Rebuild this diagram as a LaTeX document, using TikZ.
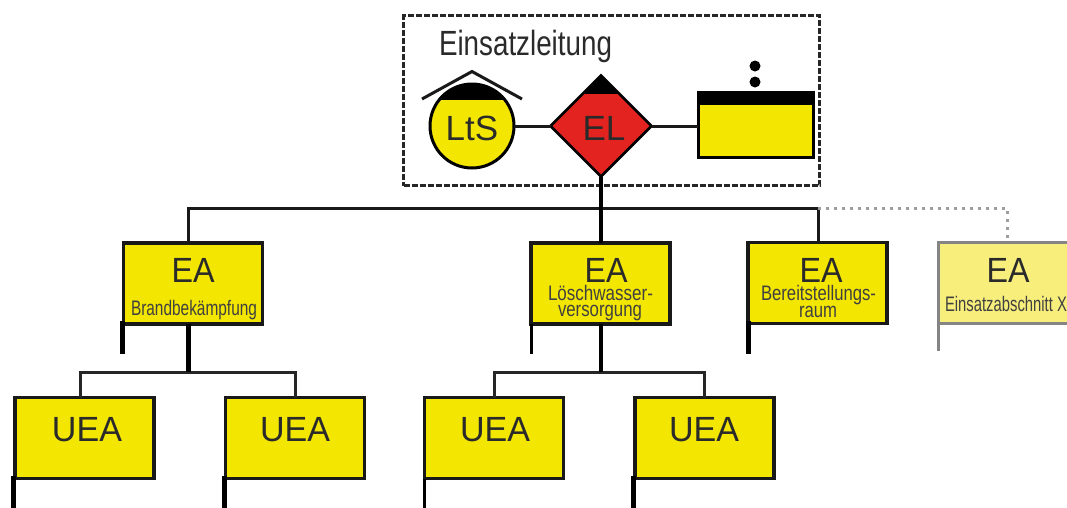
\documentclass[tikz,border=0pt]{standalone}
\usepackage{fontspec}
\usepackage{graphicx}
\setmainfont{Liberation Sans}
\usetikzlibrary{shapes.geometric}
\definecolor{ylw}{HTML}{F3E600}
\definecolor{ylwlight}{HTML}{F8EE7C}
\definecolor{elred}{HTML}{E3231F}
\definecolor{inkc}{HTML}{2A2A2A}
\newcommand{\fitw}[2]{\resizebox{#1pt}{\height}{#2}}
\newcommand{\bigfnt}{\fontsize{35}{35}\selectfont}
\newcommand{\smallfnt}{\fontsize{21}{21}\selectfont}
\tikzset{
  ebox/.style={draw=black!90,line width=3.5pt,fill=ylw,rectangle,inner sep=0pt,outer sep=0pt,minimum width=139pt,minimum height=81pt},
  ghostbox/.style={ebox,draw=black!48,fill=ylwlight},
  bigt/.style={anchor=base,inner sep=0pt,outer sep=0pt,text=inkc,font=\bigfnt},
  smallt/.style={anchor=base,inner sep=0pt,outer sep=0pt,text=black!75,font=\smallfnt},
  link/.style={draw=black!90,line width=3pt},
  tlink/.style={draw=black,line width=4pt},
  hlink/.style={draw=black!85,line width=3pt},
  pole/.style={draw=black,line width=5pt},
  tpole/.style={draw=black,line width=3pt},
  gpole/.style={draw=black!48,line width=3pt},
  dotl/.style={draw=black!38,line width=3pt,dash pattern=on 3pt off 5pt},
}
\begin{document}
\begin{tikzpicture}[x=1pt,y=-1pt]
\clip (0,0) rectangle (1067,507);
\fill[white] (0,0) rectangle (1067,507);
% Einsatzleitung frame
\node[draw=black!85,line width=2.5pt,dash pattern=on 6pt off 2pt,rectangle,inner sep=0pt,outer sep=0pt,minimum width=416pt,minimum height=170pt] (frame) at (611.5,100.5) {};
\node[bigt] (title) at (525.5,55) {\fitw{173}{Einsatzleitung}};
% Leitstelle
\node[draw=black,line width=3pt,fill=ylw,circle,inner sep=0pt,outer sep=0pt,minimum size=84pt] (lts) at (472,126) {};
\begin{scope}
  \clip (472,126) circle (42pt);
  \fill[black] (420,80) rectangle (525,100);
\end{scope}
\coordinate (roofl) at (422,99);
\coordinate (roofm) at (472,71.5);
\coordinate (roofr) at (522,99);
\draw[line width=3pt,draw=black!90] (roofl) -- (roofm) -- (roofr);
\node[bigt] (ltst) at (472,140) {LtS};
% Einsatzleiter
\node[draw=black,line width=2.5pt,fill=elred,diamond,aspect=1,inner sep=0pt,outer sep=0pt,minimum width=101pt,minimum height=101pt] (el) at (601,126) {};
\begin{scope}
  \clip (el.north) -- (el.east) -- (el.south) -- (el.west) -- cycle;
  \fill[black] (560,70) rectangle (640,94);
\end{scope}
\node[bigt] (elt) at (604,140) {EL};
% Stab box
\node[draw=black,line width=3pt,fill=ylw,rectangle,inner sep=0pt,outer sep=0pt,minimum width=115pt,minimum height=65pt] (stab) at (755.5,124.5) {};
\fill[black] (697,91) rectangle (814,105);
\node[circle,fill=black,inner sep=0pt,minimum size=11pt] (dota) at (755,66) {};
\node[circle,fill=black,inner sep=0pt,minimum size=11pt] (dotb) at (755,82) {};
\draw[link] (lts.east) -- (el.west);
\draw[link] (el.east) -- (el.east -| stab.west);
% Einsatzabschnitte
\node[ebox] (ea1) at (193,283.5) {};
\node[ebox] (ea2) at (600.5,283.5) {};
\node[ebox] (ea3) at (817.5,283) {};
\node[ghostbox] (ea4) at (1008,283) {};
\node[bigt] (ea1t) at (193,282) {\fitw{43}{EA}};
\node[bigt] (ea2t) at (606,282) {\fitw{43}{EA}};
\node[bigt] (ea3t) at (821,282) {\fitw{43}{EA}};
\node[bigt] (ea4t) at (1008,282) {\fitw{43}{EA}};
\node[smallt] (ea1s) at (194,315) {\fitw{126}{Brandbekämpfung}};
\node[smallt] (ea2s) at (600.5,300) {\fitw{105}{Löschwasser-}};
\node[smallt] (ea2u) at (600,316.5) {\fitw{84}{versorgung}};
\node[smallt] (ea3s) at (818.5,300) {\fitw{115}{Bereitstellungs-}};
\node[smallt] (ea3u) at (818,317) {\fitw{38}{raum}};
\node[smallt] (ea4s) at (1006,311) {\fitw{122}{Einsatzabschnitt X}};
% Untereinsatzabschnitte
\node[ebox] (u1) at (84.5,438) {};
\node[ebox] (u2) at (295,438) {};
\node[ebox] (u3) at (494,438) {};
\node[ebox] (u4) at (704.5,438) {};
\node[bigt] (u1t) at (87,441) {\fitw{70}{UEA}};
\node[bigt] (u2t) at (295,441) {\fitw{70}{UEA}};
\node[bigt] (u3t) at (495,441) {\fitw{70}{UEA}};
\node[bigt] (u4t) at (704,441) {\fitw{70}{UEA}};
% connectors
\coordinate (busl) at (188,208);
\coordinate (busm) at (601,208);
\coordinate (busr) at (818,208);
\coordinate (dotc) at (1007,208);
\draw[link] (busl |- ea1.north) -- (busl) -- (busr) -- (busr |- ea3.north);
\draw[tlink] (el.south) -- (busm) -- (busm |- ea2.north);
\draw[dotl] (busr) -- (dotc) -- (dotc |- ea4.north);
\coordinate (j1) at (188,372);
\coordinate (j1l) at (80,372);
\coordinate (j1r) at (295,372);
\draw[hlink] (j1l |- u1.north) -- (j1l) -- (j1r) -- (j1r |- u2.north);
\draw[pole] (j1 |- ea1.south) -- (j1);
\coordinate (j2) at (601,372);
\coordinate (j2l) at (494,372);
\coordinate (j2r) at (704,372);
\draw[hlink] (j2l |- u3.north) -- (j2l) -- (j2r) -- (j2r |- u4.north);
\draw[tlink] (j2 |- ea2.south) -- (j2);
% flag poles
\draw[pole] ([xshift=-1pt,yshift=3pt]ea1.south west) -- ++(0,33);
\draw[tpole] (ea2.south west) -- ++(0,29.5);
\draw[pole] ([yshift=3pt]ea3.south west) -- ++(0,33);
\draw[gpole] (ea4.south west) -- ++(0,27.5);
\draw[pole] ([xshift=-1.5pt,yshift=3pt]u1.south west) -- ++(0,35);
\draw[pole] ([xshift=-1.5pt,yshift=3pt]u2.south west) -- ++(0,35);
\draw[tpole] (u3.south west) -- ++(0,30);
\draw[pole] ([xshift=-1.5pt,yshift=3pt]u4.south west) -- ++(0,35);
\end{tikzpicture}
\end{document}
